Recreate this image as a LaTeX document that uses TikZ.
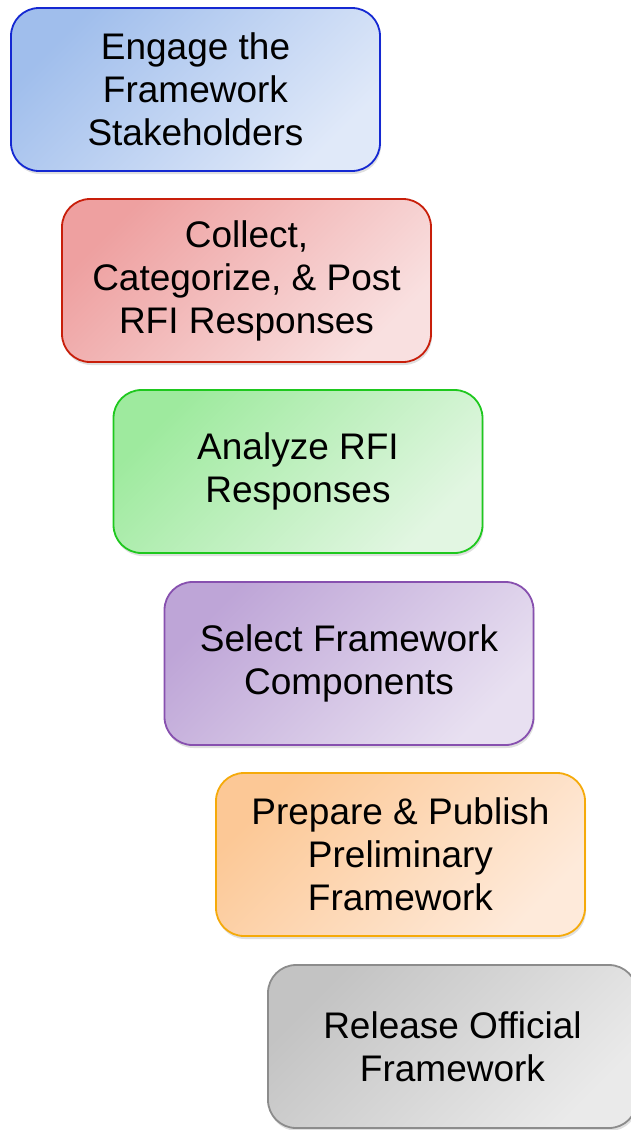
\documentclass[tikz,border=0pt]{standalone}
\usepackage{fontspec}
\setmainfont{Liberation Sans}
\usetikzlibrary{shadows}
\definecolor{bluD}{RGB}{160,190,236}\definecolor{bluL}{RGB}{224,233,249}\definecolor{bluB}{RGB}{20,40,210}
\definecolor{redD}{RGB}{238,160,160}\definecolor{redL}{RGB}{249,224,224}\definecolor{redB}{RGB}{200,30,10}
\definecolor{grnD}{RGB}{158,234,158}\definecolor{grnL}{RGB}{226,246,226}\definecolor{grnB}{RGB}{30,200,30}
\definecolor{purD}{RGB}{190,165,215}\definecolor{purL}{RGB}{232,224,241}\definecolor{purB}{RGB}{135,80,175}
\definecolor{ornD}{RGB}{252,200,150}\definecolor{ornL}{RGB}{254,234,218}\definecolor{ornB}{RGB}{245,170,10}
\definecolor{gryD}{RGB}{195,195,195}\definecolor{gryL}{RGB}{234,234,234}\definecolor{gryB}{RGB}{140,140,140}
\begin{document}
\begin{tikzpicture}[x=1pt,y=-1pt,
  stepbox/.style n args={3}{rectangle, rounded corners=28pt, minimum width=369pt, minimum height=163pt,
    line width=1.8pt, draw=#3, top color=#1, bottom color=#2, shading angle=45,
    drop shadow={shadow xshift=1pt, shadow yshift=-3pt, opacity=0.25},
    align=center, font=\fontsize{37}{43}\selectfont, text=black, inner sep=0pt}]
\useasboundingbox (0,0) rectangle (631,1130);
\node[stepbox={bluD}{bluL}{bluB}] (s1) at (195.5,89.5) {Engage the\\Framework\\Stakeholders};
\node[stepbox={redD}{redL}{redB}] (s2) at (246.5,280.5) {Collect,\\Categorize, \& Post\\RFI Responses};
\node[stepbox={grnD}{grnL}{grnB}] (s3) at (298,471.5) {Analyze RFI\\Responses};
\node[stepbox={purD}{purL}{purB}] (s4) at (349,663.5) {Select Framework\\Components};
\node[stepbox={ornD}{ornL}{ornB}] (s5) at (400.5,854.5) {Prepare \& Publish\\Preliminary\\Framework};
\node[stepbox={gryD}{gryL}{gryB}] (s6) at (452.5,1046.5) {Release Official\\Framework};
\end{tikzpicture}
\end{document}
